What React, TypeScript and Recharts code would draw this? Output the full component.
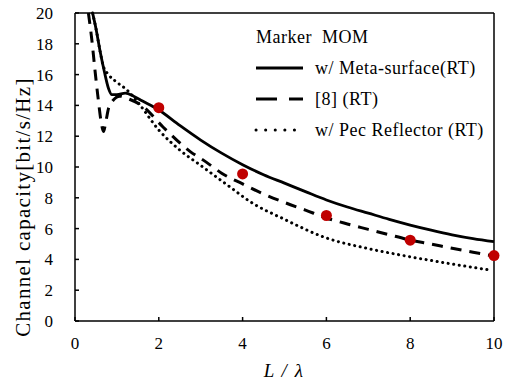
import { ComposedChart, Line, Scatter, XAxis, YAxis, ReferenceLine, Legend } from "recharts";

// L / lambda vs channel capacity
const metaX = [0.42, 0.5, 0.6, 0.7, 0.8, 0.88, 1.0, 1.2, 1.4, 1.6, 2.0, 2.5, 3.0, 3.5, 4.0, 4.5, 5.0, 5.5, 6.0, 6.5, 7.0, 7.5, 8.0, 8.5, 9.0, 9.5, 10];
const metaY = [20, 19.0, 17.5, 16.2, 15.1, 14.7, 14.7, 14.8, 14.6, 14.3, 13.7, 12.7, 11.75, 10.9, 10.15, 9.5, 8.95, 8.4, 7.86, 7.4, 7.0, 6.6, 6.23, 5.9, 5.6, 5.35, 5.15];

const refX = [0.32, 0.4, 0.48, 0.55, 0.62, 0.68, 0.74, 0.8, 0.9, 1.07, 1.3, 1.59, 2.1, 2.75, 3.14, 3.5, 4.0, 4.5, 5.0, 5.5, 6.0, 6.5, 7.0, 7.5, 8.0, 8.5, 9.0, 9.5, 10];
const refY = [20, 18.3, 16.2, 14.5, 13.0, 12.3, 13.0, 13.8, 14.3, 14.6, 14.4, 14.0, 12.6, 11.0, 10.3, 9.6, 8.9, 8.25, 7.7, 7.2, 6.69, 6.3, 5.95, 5.6, 5.26, 5.0, 4.72, 4.47, 4.22];

const pecX = [0.42, 0.5, 0.6, 0.67, 0.8, 1.0, 1.24, 1.5, 2.0, 2.5, 3.0, 3.7, 4.18, 5.0, 6.0, 7.0, 8.0, 9.0, 9.9];
const pecY = [20, 19.0, 17.5, 16.6, 16.0, 15.5, 15.0, 14.2, 12.4, 11.1, 10.1, 8.7, 7.75, 6.6, 5.39, 4.7, 4.17, 3.7, 3.31];

const momX = [2, 4, 6, 8, 10];
const momY = [13.85, 9.55, 6.85, 5.25, 4.25];

const xTicks = [0, 2, 4, 6, 8, 10];
const yTicks = [0, 2, 4, 6, 8, 10, 12, 14, 16, 18, 20];

const zip = (xs: number[], ys: number[]) => xs.map((x, i) => ({ x, y: ys[i] }));

const FONT = "'Liberation Serif', 'Times New Roman', serif";
const tickStyle = { fontFamily: FONT, fontSize: 17, fill: "#000" };

function LegendBox() {
  const row = { height: 31, display: "flex", alignItems: "center" } as const;
  const sample = (dash?: string, cap: "butt" | "round" = "butt") => (
    <svg width={62} height={10} style={{ flex: "none" }}>
      <line x1={3} y1={5} x2={50} y2={5} stroke="#000" strokeWidth={3} strokeDasharray={dash} strokeLinecap={cap} />
    </svg>
  );
  return (
    <div style={{ fontFamily: FONT, fontSize: 18, letterSpacing: 0.5, color: "#000", lineHeight: 1 }}>
      <div style={{ ...row, paddingLeft: 3 }}>Marker&nbsp; MOM</div>
      <div style={row}>{sample()}<span>w/ Meta-surface(RT)</span></div>
      <div style={row}>{sample("21 12")}<span>[8] (RT)</span></div>
      <div style={row}>{sample("0.1 9.5", "round")}<span>w/ Pec Reflector (RT)</span></div>
    </div>
  );
}

export default function App() {
  return (
    <div style={{ position: "absolute", left: 0, top: 0 }}>
      <ComposedChart width={514} height={381} margin={{ top: 13, right: 20, bottom: 0, left: 0 }}>
        <XAxis
          type="number"
          dataKey="x"
          domain={[0, 10]}
          ticks={xTicks}
          height={60}
          tickSize={-4}
          tickMargin={20}
          stroke="#000"
          strokeWidth={1.5}
          tick={tickStyle}
          label={{
            content: () => (
              <text x={284} y={377} textAnchor="middle" fontFamily={FONT} fontSize={19} letterSpacing={1.5} fontStyle="italic" fill="#000">
                L / λ
              </text>
            ),
          }}
        />
        <YAxis
          type="number"
          dataKey="y"
          domain={[0, 20]}
          ticks={yTicks}
          width={75}
          tickSize={-4}
          tickMargin={26}
          stroke="#000"
          strokeWidth={1.5}
          tick={tickStyle}
          label={{
            content: () => (
              <text x={23} y={207} transform="rotate(-90 23 207)" textAnchor="middle" dominantBaseline="central" fontFamily={FONT} fontSize={21} letterSpacing={1.3} fill="#000">
                Channel capacity[bit/s/Hz]
              </text>
            ),
          }}
        />
        <ReferenceLine y={20} stroke="#000" strokeWidth={1.5} />
        <ReferenceLine x={10} stroke="#000" strokeWidth={1.5} />
        <Line data={zip(pecX, pecY)} dataKey="y" type="monotone" stroke="#000" strokeWidth={3} strokeDasharray="0.1 5.5" strokeLinecap="round" dot={false} isAnimationActive={false} />
        <Line data={zip(refX, refY)} dataKey="y" type="monotone" stroke="#000" strokeWidth={3} strokeDasharray="11 8" dot={false} isAnimationActive={false} />
        <Line data={zip(metaX, metaY)} dataKey="y" type="monotone" stroke="#000" strokeWidth={2.8} dot={false} isAnimationActive={false} />
        <Scatter
          data={zip(momX, momY)}
          dataKey="y"
          isAnimationActive={false}
          shape={(p: any) => <circle cx={p.cx} cy={p.cy} r={5.5} fill="#c00000" />}
        />
        <Legend
          layout="vertical"
          align="center"
          verticalAlign="middle"
          content={() => <LegendBox />}
          wrapperStyle={{ top: 21, left: 253, width: 255 }}
        />
      </ComposedChart>
    </div>
  );
}
